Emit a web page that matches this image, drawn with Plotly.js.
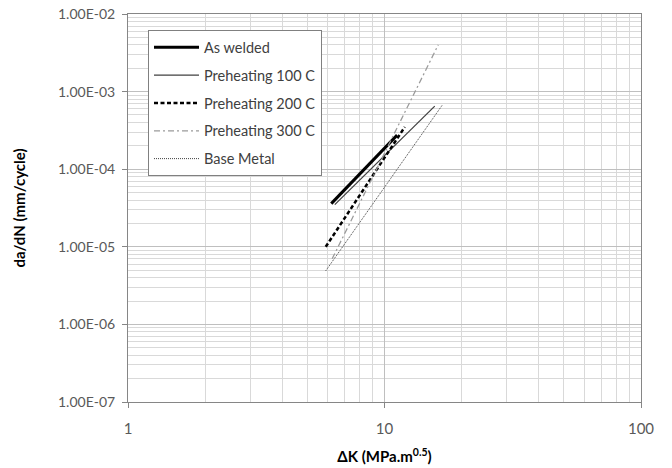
<!DOCTYPE html>
<html>
<head>
<meta charset="utf-8">
<script src="https://cdn.plot.ly/plotly-3.0.1.min.js"></script>
<style>html,body{margin:0;padding:0;background:#fff;}#chart{width:672px;height:468px;}</style>
</head>
<body>
<div id="chart"></div>
<script>
// Series names
var seriesNames = ["As welded", "Preheating 100 C", "Preheating 200 C", "Preheating 300 C", "Base Metal"];
// ΔK values (MPa.m^0.5) and da/dN (mm/cycle) for each series (line endpoints)
var asWeldedK = [6.2, 11.2];
var asWeldedRate = [3.6e-5, 2.75e-4];
var pre100K = [6.4, 15.7];
var pre100Rate = [3.5e-5, 6.5e-4];
var pre200K = [5.9, 12.0];
var pre200Rate = [1.0e-5, 3.5e-4];
var pre300K = [6.25, 16.2];
var pre300Rate = [7.0e-6, 4.0e-3];
var baseK = [5.9, 16.8];
var baseRate = [4.9e-6, 6.7e-4];
// Tick labels
var xTickVals = [1, 10, 100];
var xTickText = ["1", "10", "100"];
var yTickVals = [1e-7, 1e-6, 1e-5, 1e-4, 1e-3, 1e-2];
var yTickText = ["1.00E-07", "1.00E-06", "1.00E-05", "1.00E-04", "1.00E-03", "1.00E-02"];

var FONT = "Lato, 'Open Sans', sans-serif";

function tr(x, y, name, color, width, dash, g) {
  return {x: x, y: y, name: name, type: "scatter", mode: "lines", legendgroup: g,
    line: {color: color, width: width, dash: dash}};
}
var data = [
  tr(asWeldedK, asWeldedRate, seriesNames[0], "#000000", 3, "solid", "a"),
  tr(pre100K, pre100Rate, seriesNames[1], "#404040", 1.25, "solid", "b"),
  tr(pre200K, pre200Rate, seriesNames[2], "#000000", 2.5, "4px,2.5px", "c"),
  tr(pre300K, pre300Rate, seriesNames[3], "#9a9a9a", 1.25, "6px,3px,2px,3px", "d"),
  tr(baseK, baseRate, seriesNames[4], "#404040", 1, "1px,1px", "e")
];

var layout = {
  width: 672, height: 468,
  margin: {l: 128, r: 31, t: 14, b: 66, pad: 0},
  paper_bgcolor: "#ffffff", plot_bgcolor: "#ffffff",
  font: {family: FONT, size: 14, color: "#595959"},
  showlegend: true,
  legend: {
    x: 0.039, y: 0.958, xanchor: "left", yanchor: "top",
    bgcolor: "#ffffff", bordercolor: "#808080", borderwidth: 1,
    font: {family: FONT, size: 14.5, color: "#404040"},
    traceorder: "grouped", tracegroupgap: 6, itemwidth: 45
  },
  xaxis: {
    type: "log", range: [0, 2], automargin: false,
    tickmode: "array", tickvals: xTickVals, ticktext: xTickText,
    ticks: "outside", ticklen: 5, tickcolor: "#868686", ticklabelstandoff: 8,
    showline: true, linecolor: "#868686", linewidth: 1, mirror: true,
    showgrid: true, gridcolor: "#bfbfbf", gridwidth: 1,
    minor: {dtick: "D1", showgrid: true, gridcolor: "#d9d9d9", gridwidth: 1, ticks: ""},
    zeroline: false,
    tickfont: {family: FONT, size: 15, color: "#595959"},
    title: {text: "ΔK (MPa.m<sup>0.5</sup>)", font: {family: FONT, size: 15, color: "#000000", weight: "bold"}, standoff: 15}
  },
  yaxis: {
    type: "log", range: [-7, -2], automargin: false,
    tickmode: "array", tickvals: yTickVals, ticktext: yTickText,
    ticks: "outside", ticklen: 5, tickcolor: "#868686", ticklabelstandoff: 4,
    showline: true, linecolor: "#868686", linewidth: 1, mirror: true,
    showgrid: true, gridcolor: "#bfbfbf", gridwidth: 1,
    minor: {dtick: "D1", showgrid: true, gridcolor: "#d9d9d9", gridwidth: 1, ticks: ""},
    zeroline: false,
    tickfont: {family: FONT, size: 14, color: "#595959"},
    title: {text: "da/dN (mm/cycle)", font: {family: FONT, size: 15, color: "#000000", weight: "bold"}, standoff: 28}
  }
};

Plotly.newPlot("chart", data, layout, {displayModeBar: false, staticPlot: true});
</script>
</body>
</html>
